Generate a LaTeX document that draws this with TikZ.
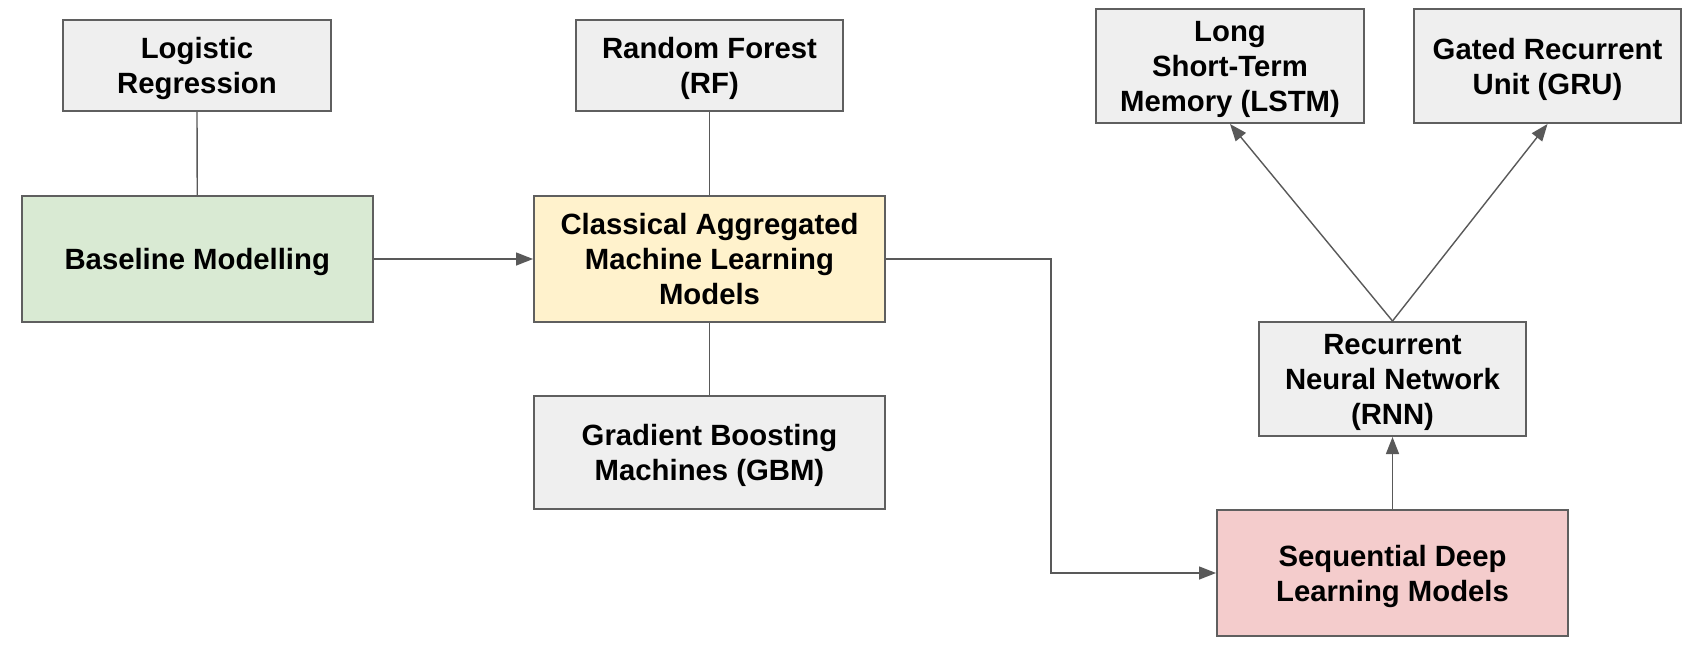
\documentclass[tikz,border=0pt]{standalone}
\usepackage{fontspec}
\setmainfont{Liberation Sans}
\usetikzlibrary{arrows.meta}
\definecolor{bordergray}{HTML}{5F5F5F}
\definecolor{linegray}{HTML}{595959}
\definecolor{boxgray}{HTML}{EFEFEF}
\definecolor{boxgreen}{HTML}{D9EAD3}
\definecolor{boxyellow}{HTML}{FFF2CC}
\definecolor{boxred}{HTML}{F4CCCC}
\newcommand\boxtext[1]{\raisebox{-3.5pt}[\height][\depth]{\begin{tabular}{@{}c@{}}#1\end{tabular}}}
\tikzset{
  box/.style={draw=bordergray, line width=2pt, rectangle, align=center, inner sep=0pt,
    font=\fontsize{29.3}{35}\selectfont\bfseries, text=black},
  conn/.style={draw=linegray, line width=1.4pt},
  arr/.style={conn, -{Triangle[length=17pt,width=13pt]}},
}
\begin{document}
\begin{tikzpicture}[x=1pt,y=-1pt]
\useasboundingbox (0,0) rectangle (1708,654);
\fill[white] (0,0) rectangle (1708,654);
% nodes
\node[box, fill=boxgray, minimum width=268pt, minimum height=91pt] (lr) at (197,65.5) {\boxtext{Logistic\\Regression}};
\node[box, fill=boxgreen, minimum width=350.5pt, minimum height=126pt] (bl) at (197.25,259) {\boxtext{Baseline Modelling}};
\node[box, fill=boxgray, minimum width=267pt, minimum height=91pt] (rf) at (709.5,65.5) {\boxtext{Random Forest\\(RF)}};
\node[box, fill=boxyellow, minimum width=351pt, minimum height=126pt] (cl) at (709.5,259) {\boxtext{Classical Aggregated\\Machine Learning\\Models}};
\node[box, fill=boxgray, minimum width=351pt, minimum height=113pt] (gb) at (709.5,452.5) {\boxtext{Gradient Boosting\\Machines (GBM)}};
\node[box, fill=boxgray, minimum width=268pt, minimum height=114pt] (ls) at (1230,66) {\boxtext{Long\\Short-Term\\Memory (LSTM)}};
\node[box, fill=boxgray, minimum width=267pt, minimum height=114pt] (gr) at (1547.5,66) {\boxtext{Gated Recurrent\\Unit (GRU)}};
\node[box, fill=boxgray, minimum width=267pt, minimum height=114pt] (rn) at (1392.5,379) {\boxtext{Recurrent\\Neural Network\\(RNN)}};
\node[box, fill=boxred, minimum width=351pt, minimum height=126pt] (sq) at (1392.5,573) {\boxtext{Sequential Deep\\Learning Models}};
\coordinate (bend) at (1051,259);
% connectors
\draw[conn] (lr.south) -- (bl.north);
\draw[conn] (rf.south) -- (cl.north);
\draw[conn] (cl.south) -- (gb.north);
\draw[arr] (bl.east) -- (cl.west);
\draw[arr] (cl.east) -- (bend) |- (sq.west);
\draw[arr] (sq.north) -- (rn.south);
\draw[arr] (rn.north) -- (ls.south);
\draw[arr] (rn.north) -- (gr.south);
\end{tikzpicture}
\end{document}
